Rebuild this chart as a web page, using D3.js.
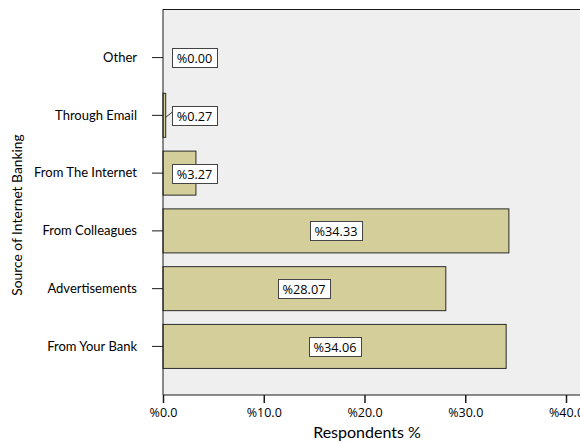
<!DOCTYPE html>
<html>
<head>
<meta charset="utf-8">
<script src="https://cdn.jsdelivr.net/npm/d3@7"></script>
<style>
  html, body { margin: 0; padding: 0; background: #ffffff; }
  svg { display: block; font-family: Lato, "Open Sans", sans-serif; }
</style>
</head>
<body>
<svg id="chart" width="580" height="442"></svg>
<script>
// Sources of first hearing about internet banking (percent of respondents)
const categories = ["Other", "Through Email", "From The Internet", "From Colleagues", "Advertisements", "From Your Bank"];
const values = [0.00, 0.27, 3.27, 34.33, 28.07, 34.06];
const xTicks = [0, 10, 20, 30, 40];

const svg = d3.select("#chart");
const plotLeft = 163, plotTop = 9, plotBottom = 395, plotRight = 600;

const x = d3.scaleLinear().domain([0, 40]).range([plotLeft, plotLeft + 403]);
const y = d3.scaleBand().domain(categories).range([plotTop, plotBottom])
  .paddingInner(0.238).paddingOuter(0.46);

// plot background
svg.append("rect")
  .attr("x", plotLeft).attr("y", plotTop)
  .attr("width", plotRight - plotLeft).attr("height", plotBottom - plotTop)
  .attr("fill", "#eeefee");

// bars
svg.append("g").selectAll("rect").data(categories).join("rect")
  .attr("x", x(0))
  .attr("y", d => y(d))
  .attr("width", (d, i) => x(values[i]) - x(0))
  .attr("height", y.bandwidth())
  .attr("fill", "#d4cf9a")
  .attr("stroke", "#2a2a2a")
  .attr("stroke-width", 1)
  .attr("display", (d, i) => values[i] > 0 ? null : "none");

// frame line along the top
svg.append("line").attr("x1", plotLeft).attr("x2", plotRight)
  .attr("y1", plotTop + 0.5).attr("y2", plotTop + 0.5)
  .attr("stroke", "#1a1a1a");

// y axis
const yAxis = svg.append("g").attr("transform", `translate(${plotLeft},0)`)
  .call(d3.axisLeft(y).tickSize(11).tickPadding(15));
yAxis.select(".domain").attr("stroke", "#1a1a1a").attr("d", `M0,${plotTop}V${plotBottom}`);
yAxis.selectAll(".tick line").attr("stroke", "#1a1a1a");
yAxis.selectAll(".tick text").attr("font-size", 13).attr("fill", "#000")
  .attr("font-family", "Lato, 'Open Sans', sans-serif");

// x axis
const xAxis = svg.append("g").attr("transform", `translate(0,${plotBottom})`)
  .call(d3.axisBottom(x).tickValues(xTicks).tickSize(8).tickPadding(5)
    .tickFormat(d => "%" + d3.format(".1f")(d)));
xAxis.select(".domain").attr("stroke", "#1a1a1a").attr("d", `M${plotLeft},0H${plotRight}`);
xAxis.selectAll(".tick line").attr("stroke", "#1a1a1a").attr("stroke-width", 1.5);
xAxis.selectAll(".tick text").attr("font-size", 12.5).attr("fill", "#000")
  .attr("font-family", "'Open Sans', sans-serif");

// value labels in white boxes sized to their text
const labels = svg.append("g");
categories.forEach((c, i) => {
  const v = values[i];
  const cy = y(c) + y.bandwidth() / 2;
  const small = v < 5;
  const g = labels.append("g");
  const t = g.append("text")
    .attr("text-anchor", "middle").attr("dominant-baseline", "central")
    .attr("font-family", "'Open Sans', sans-serif")
    .attr("font-size", 12.7).attr("fill", "#000")
    .text("%" + d3.format(".2f")(v));
  const tw = t.node().getComputedTextLength();
  const w = Math.round(tw + 9), h = 19;
  const bx = small ? x(0) + 9 : Math.round((x(0) + x(v)) / 2 - w / 2);
  t.attr("x", bx + w / 2).attr("y", cy + 0.5);
  g.insert("rect", "text")
    .attr("x", bx + 0.5).attr("y", Math.round(cy - h / 2) + 0.5)
    .attr("width", w).attr("height", h)
    .attr("fill", "#ffffff").attr("stroke", "#444").attr("stroke-width", 1);
  if (small && v > 0 && x(v) < bx) {
    labels.insert("line", "g")
      .attr("x1", x(v)).attr("y1", cy + 2)
      .attr("x2", bx).attr("y2", cy - 3)
      .attr("stroke", "#333").attr("stroke-width", 1);
  }
});

// axis titles
svg.append("text")
  .attr("x", 367).attr("y", 438)
  .attr("text-anchor", "middle")
  .attr("font-size", 16).attr("fill", "#000")
  .text("Respondents %");

svg.append("text")
  .attr("transform", "translate(22,215) rotate(-90)")
  .attr("text-anchor", "middle")
  .attr("font-size", 13.8).attr("fill", "#000")
  .text("Source of Internet Banking");
</script>
</body>
</html>
